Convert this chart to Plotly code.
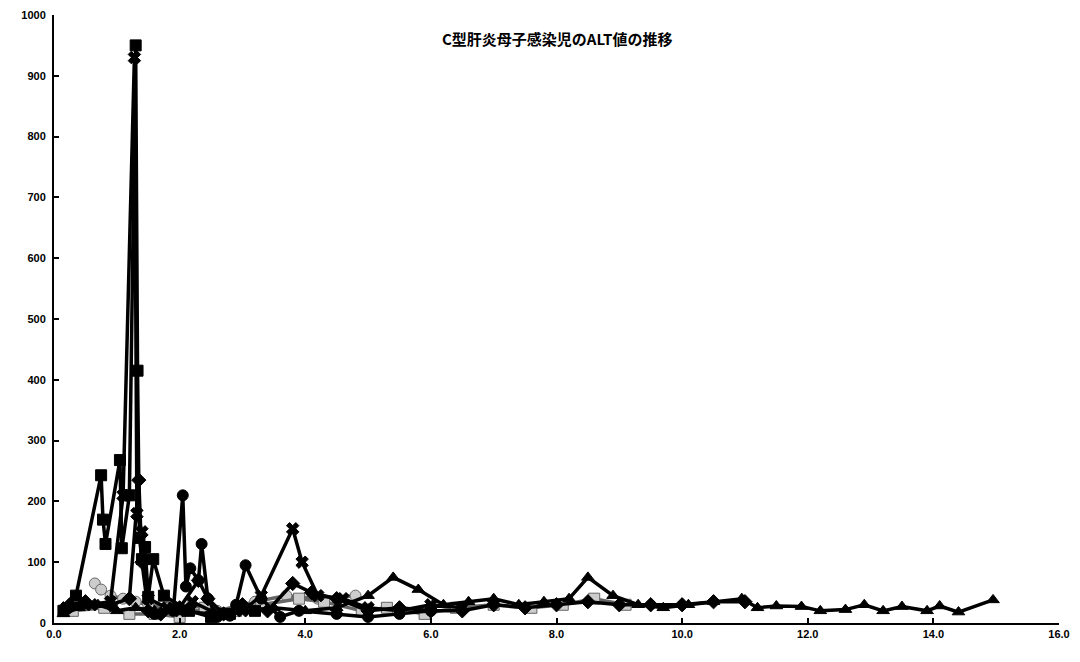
import plotly.graph_objects as go

title_text = "C型肝炎母子感染児のALT値の推移"
x_tickvals = [0, 2, 4, 6, 8, 10, 12, 14, 16]
x_ticktext = ["0.0", "2.0", "4.0", "6.0", "8.0", "10.0", "12.0", "14.0", "16.0"]
y_tickvals = [0, 100, 200, 300, 400, 500, 600, 700, 800, 900, 1000]

# Series 1 (squares): spike child
s1_x = [0.15, 0.35, 0.75, 0.78, 0.82, 1.05, 1.08, 1.2, 1.3, 1.33, 1.36, 1.4, 1.45, 1.5, 1.58, 1.75, 2.15, 2.5, 2.8, 3.2]
s1_y = [20, 45, 243, 170, 130, 268, 123, 210, 950, 415, 140, 105, 125, 43, 105, 45, 20, 10, 15, 20]

# Series 2 (x markers)
s2_x = [0.2, 0.6, 0.9, 1.1, 1.28, 1.32, 1.4, 1.5, 1.8, 2.0, 2.2, 2.6, 3.0, 3.3, 3.8, 3.95, 4.2, 4.6, 5.0, 5.5, 6.0, 6.5]
s2_y = [25, 30, 35, 210, 930, 180, 150, 40, 25, 20, 35, 15, 20, 45, 155, 100, 45, 40, 25, 20, 30, 25]

# Series 3 (diamonds)
s3_x = [0.25, 0.5, 0.9, 1.2, 1.35, 1.4, 1.5, 1.7, 2.0, 2.3, 2.45, 2.7, 3.0, 3.4, 3.8, 4.1, 4.5, 5.0, 5.5, 6.0,
        6.5, 7.0, 7.5, 8.0, 8.5, 9.0, 9.5, 10.0, 10.5, 11.0]
s3_y = [30, 35, 30, 40, 235, 100, 20, 15, 25, 70, 40, 15, 30, 20, 65, 50, 40, 20, 25, 20,
        20, 30, 25, 30, 35, 30, 30, 30, 35, 35]

# Series 4 (circles)
s4_x = [1.6, 1.9, 2.05, 2.1, 2.17, 2.3, 2.35, 2.45, 2.6, 2.8, 2.9, 3.05, 3.3, 3.6, 3.9, 4.5, 5.0, 5.5, 6.0]
s4_y = [15, 20, 210, 60, 90, 70, 130, 40, 10, 12, 30, 95, 40, 10, 20, 15, 10, 15, 20]

# Series 5 (triangles): long follow-up
s5_x = [0.15, 0.4, 0.7, 1.0, 1.3, 1.6, 2.0, 2.5, 3.0, 3.5, 4.0, 4.5, 5.0, 5.4, 5.8, 6.2, 6.6, 7.0, 7.4, 7.8,
        8.2, 8.5, 8.9, 9.3, 9.7, 10.1, 10.5, 10.95, 11.2, 11.5, 11.9, 12.2, 12.6, 12.9, 13.2, 13.5, 13.9, 14.1, 14.4, 14.95]
s5_y = [15, 25, 30, 20, 25, 20, 20, 15, 20, 25, 20, 25, 45, 75, 55, 30, 35, 40, 30, 35,
        40, 75, 45, 30, 25, 30, 35, 40, 25, 28, 27, 20, 22, 30, 20, 27, 20, 28, 18, 38]

# Series 6 (gray)
s6_x = [0.65, 0.75, 0.9, 1.1, 1.3, 1.5, 1.8, 2.2, 2.6, 3.2, 3.7, 4.2, 4.8]
s6_y = [65, 55, 45, 40, 35, 30, 25, 30, 20, 35, 45, 40, 45]

# Series 7 (gray)
s7_x = [0.3, 0.8, 1.2, 1.6, 2.0, 2.4, 2.9, 3.3, 3.9, 4.3, 4.9, 5.3, 5.9, 6.4, 7.0, 7.6, 8.1, 8.6, 9.1]
s7_y = [20, 25, 15, 15, 10, 25, 20, 30, 40, 35, 20, 25, 15, 25, 30, 25, 30, 40, 30]

series = [
    (s6_x, s6_y, "circle", "#666666", "#cccccc"),
    (s7_x, s7_y, "square", "#666666", "#cccccc"),
    (s5_x, s5_y, "triangle-up", "black", "black"),
    (s3_x, s3_y, "diamond", "black", "black"),
    (s4_x, s4_y, "circle", "black", "black"),
    (s2_x, s2_y, "x", "black", "black"),
    (s1_x, s1_y, "square", "black", "black"),
]

fig = go.Figure()
for xs, ys, sym, lc, mc in series:
    fig.add_trace(go.Scatter(
        x=xs, y=ys, mode="lines+markers",
        line=dict(color=lc, width=3.5),
        marker=dict(symbol=sym, size=11, color=mc, line=dict(color=lc, width=1)),
        showlegend=False,
    ))

tick_font = dict(family="Liberation Sans, Arial, sans-serif", size=11, color="black", weight="bold")

fig.update_layout(
    width=1080, height=662,
    margin=dict(l=54, r=21, t=15, b=39),
    paper_bgcolor="white", plot_bgcolor="white",
    xaxis=dict(range=[0, 16], tickvals=x_tickvals, ticktext=x_ticktext, automargin=False,
               showgrid=False, zeroline=False, showline=True, linecolor="black", linewidth=2,
               ticks="inside", ticklen=5, tickwidth=2, tickcolor="black", tickfont=tick_font),
    yaxis=dict(range=[0, 1000], tickvals=y_tickvals, automargin=False,
               showgrid=False, zeroline=False, showline=True, linecolor="black", linewidth=2,
               ticks="inside", ticklen=5, tickwidth=2, tickcolor="black", tickfont=tick_font,
               ticklabelstandoff=4),
    annotations=[dict(text=title_text, x=0.5, y=0.962, xref="paper", yref="paper",
                      showarrow=False, xanchor="center", yanchor="middle",
                      font=dict(family="Noto Sans CJK JP", size=15, color="black", weight="bold"))],
)

fig.write_html("out.html", config={"displayModeBar": False},
               post_script="document.body.style.margin='0';document.body.style.overflow='hidden';")
